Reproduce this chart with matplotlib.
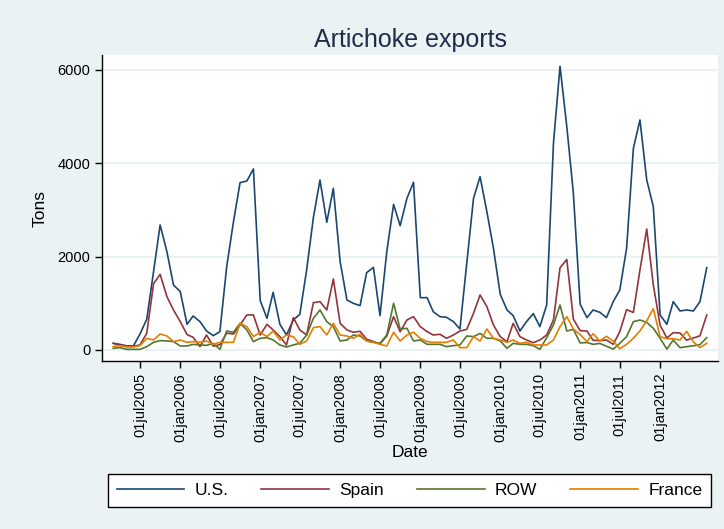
import matplotlib
matplotlib.use('Agg')
from matplotlib import pyplot as plt
import pandas as pd

plt.rcParams['font.family'] = ['Liberation Sans', 'DejaVu Sans']

# monthly observations, Mar 2005 .. Aug 2012
dates = pd.date_range('2005-03-01', periods=90, freq='MS')

us = [143, 120, 86, 86, 340, 660, 1679, 2679, 2107, 1393,
      1250, 550, 729, 607, 407, 307, 393, 1786, 2750, 3586,
      3621, 3879, 1060, 679, 1236, 550, 321, 643, 764, 1714,
      2843, 3643, 2736, 3464, 1893, 1071, 1000, 950, 1657, 1771,
      736, 2107, 3121, 2664, 3250, 3593, 1121, 1121, 821, 714,
      700, 607, 450, 1850, 3250, 3714, 2964, 2179, 1193, 857,
      736, 407, 607, 779, 500, 964, 4429, 6080, 4786, 3357,
      979, 693, 857, 807, 693, 1036, 1286, 2179, 4321, 4929,
      3643, 3071, 750, 550, 1036, 836, 857, 836, 1036, 1764]

spain = [143, 100, 90, 80, 107, 357, 1420, 1621, 1143, 857,
         607, 330, 271, 71, 321, 80, 115, 360, 343, 536,
         750, 750, 321, 550, 429, 286, 107, 693, 429, 321,
         1014, 1036, 857, 1521, 571, 429, 380, 400, 230, 180,
         130, 300, 714, 390, 643, 714, 500, 393, 321, 336,
         250, 321, 407, 440, 786, 1179, 929, 536, 286, 179,
         571, 286, 214, 157, 214, 321, 643, 1760, 1940, 660,
         414, 407, 207, 200, 214, 121, 393, 864, 804, 1714,
         2593, 1393, 530, 257, 371, 364, 210, 257, 303, 750]

row = [36, 50, 14, 14, 14, 71, 164, 200, 193, 179,
       86, 86, 121, 107, 100, 143, 14, 407, 379, 571,
       429, 179, 250, 264, 214, 107, 64, 107, 143, 321,
       679, 857, 607, 500, 193, 214, 321, 300, 193, 164,
       143, 321, 1000, 450, 464, 193, 214, 121, 121, 121,
       71, 93, 107, 300, 286, 357, 250, 250, 193, 36,
       143, 121, 121, 93, 14, 264, 536, 964, 407, 440,
       150, 160, 121, 140, 80, 18, 143, 286, 607, 643,
       590, 465, 250, 18, 214, 50, 71, 90, 114, 264]

france = [71, 93, 64, 64, 93, 250, 214, 343, 300, 179,
          214, 164, 179, 164, 193, 121, 164, 164, 164, 571,
          500, 286, 379, 286, 407, 214, 321, 286, 121, 193,
          479, 500, 321, 571, 321, 300, 250, 336, 193, 164,
          121, 86, 379, 193, 321, 379, 250, 179, 164, 164,
          164, 214, 50, 50, 286, 193, 450, 250, 214, 164,
          214, 143, 164, 107, 107, 107, 214, 500, 714, 450,
          330, 179, 350, 190, 293, 190, 28, 121, 250, 410,
          625, 886, 286, 240, 240, 214, 400, 172, 50, 143]

tick_dates = pd.date_range('2005-07-01', '2012-01-01', freq='6MS')
tick_labels = ['01jul2005', '01jan2006', '01jul2006', '01jan2007', '01jul2007',
               '01jan2008', '01jul2008', '01jan2009', '01jul2009', '01jan2010',
               '01jul2010', '01jan2011', '01jul2011', '01jan2012']
y_ticks = [0, 2000, 4000, 6000]

bg = '#EAF2F3'
fig = plt.figure(figsize=(7.24, 5.29), dpi=100, facecolor=bg)
ax = fig.add_axes([0.1413, 0.3176, 0.85, 0.5784])
ax.set_facecolor('white')

h1, = ax.plot(dates, us, color='#1A476F', lw=1.2, label='U.S.')
h2, = ax.plot(dates, spain, color='#90353B', lw=1.2, label='Spain')
h3, = ax.plot(dates, row, color='#55752F', lw=1.2, label='ROW')
h4, = ax.plot(dates, france, color='#E37E00', lw=1.2, label='France')

ax.set_xlim(pd.Timestamp('2005-01-10'), pd.Timestamp('2012-09-20'))
ax.set_ylim(-236, 6321)
ax.set_xticks(tick_dates)
ax.set_xticklabels(tick_labels, rotation=90)
ax.set_yticks(y_ticks)
ax.set_yticklabels([str(v) for v in y_ticks])

ax.yaxis.grid(True, color=bg, lw=1.5)
ax.set_axisbelow(True)
for s in ['top', 'right']:
    ax.spines[s].set_visible(False)
for s in ['left', 'bottom']:
    ax.spines[s].set_color('black')
    ax.spines[s].set_linewidth(1)
ax.tick_params(axis='both', direction='out', length=5, width=1, labelsize=10.5)

ax.set_title('Artichoke exports', fontsize=18, color='#1E2D4A', pad=6)
ax.set_xlabel('Date', fontsize=12.5)
ax.xaxis.set_label_coords(0.5, -0.275)
ax.set_ylabel('Tons', fontsize=12.5)
ax.yaxis.set_label_coords(-0.089, 0.5)

leg = fig.legend([h1, h2, h3, h4], ['U.S.', 'Spain', 'ROW', 'France'],
                 loc='center', bbox_to_anchor=(108/724, 1-508/529, 603/724, 35/529),
                 mode='expand', ncol=4, fancybox=False, edgecolor='black',
                 fontsize=12.5, handlelength=3.9, handletextpad=0.6,
                 borderpad=0.5, borderaxespad=0)
leg.get_frame().set_linewidth(1)
leg.get_frame().set_facecolor('white')
leg.get_frame().set_alpha(None)

fig.savefig('out.png', dpi=100, facecolor=fig.get_facecolor())
